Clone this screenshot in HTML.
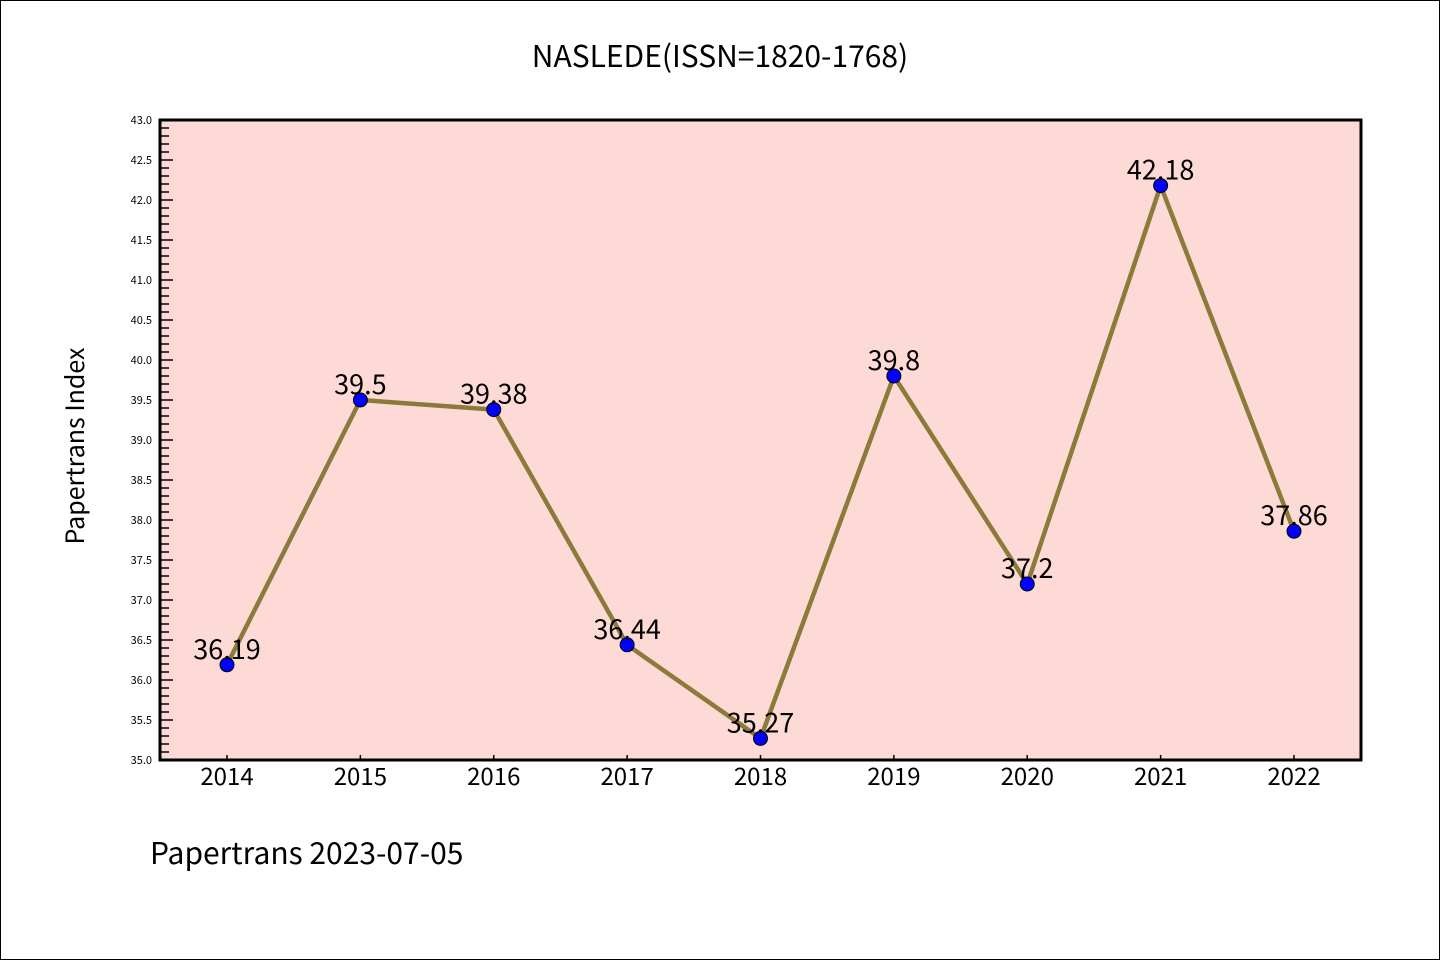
<!DOCTYPE html>
<html><head><meta charset="utf-8"><style>
body{margin:0;background:#fff}
svg{display:block}
text{font-family:"WenQuanYi Zen Hei","WenQuanYi Zen Hei Sharp","文泉驿正黑","Noto Sans CJK SC","Liberation Sans",sans-serif;fill:#000}
</style></head><body>
<svg id="chart" width="1440" height="960" xmlns="http://www.w3.org/2000/svg">
<rect x="0.5" y="0.5" width="1439" height="959" fill="#fff" stroke="#000" stroke-width="1"/>
<text x="720" y="67" font-size="30" text-anchor="middle">NASLEDE(ISSN=1820-1768)</text>
<rect x="160" y="120" width="1201" height="640" fill="#fedad6"/>
<g id="yaxis"></g>
<g id="xaxis"></g>
<g id="series"></g>
<rect x="160" y="120" width="1201" height="640" fill="none" stroke="#000" stroke-width="3"/>
<text transform="translate(84,446) rotate(-90)" font-size="25" text-anchor="middle">Papertrans Index</text>
<text x="150" y="864" font-size="30">Papertrans 2023-07-05</text>
</svg>
<script>
const categories=["2014","2015","2016","2017","2018","2019","2020","2021","2022"];
const values=[36.19,39.5,39.38,36.44,35.27,39.8,37.2,42.18,37.86];
const valueLabels=["36.19","39.5","39.38","36.44","35.27","39.8","37.2","42.18","37.86"];
const yTicks=[35.0,35.5,36.0,36.5,37.0,37.5,38.0,38.5,39.0,39.5,40.0,40.5,41.0,41.5,42.0,42.5,43.0];
const NS="http://www.w3.org/2000/svg";
const yMin=35,yMax=43,plotTop=120,plotBottom=760;
function yScale(v){return plotBottom-(v-yMin)/(yMax-yMin)*(plotBottom-plotTop);}
function xScale(i){return 227+i*(1294-227)/(categories.length-1);}
function mk(t,a,p){const e=document.createElementNS(NS,t);for(const k in a)e.setAttribute(k,a[k]);p.appendChild(e);return e;}
const ya=document.getElementById('yaxis'),xa=document.getElementById('xaxis'),se=document.getElementById('series');
for(let v=yMin*10;v<=yMax*10;v++){
  const yy=yScale(v/10);const major=v%5===0;
  const l=mk('line',{x1:160,x2:160+(major?13:9),y1:yy,y2:yy,stroke:'#000','stroke-width':1.5},ya);
  
  
}
yTicks.forEach(t=>{
  const e=mk('text',{x:152,y:yScale(t)+4,'font-size':11,'text-anchor':'end'},ya);
  e.textContent=t.toFixed(1);
  
  
});
categories.forEach((c,i)=>{
  const l=mk('line',{x1:xScale(i),x2:xScale(i),y1:760,y2:755,stroke:'#000','stroke-width':1.5},xa);
  
  
  const e=mk('text',{x:xScale(i),y:785,'font-size':24,'text-anchor':'middle'},xa);
  e.textContent=c;
  
  
});
const pl=mk('polyline',{points:values.map((v,i)=>xScale(i)+','+yScale(v)).join(' '),fill:'none',stroke:'#8b7b3a','stroke-width':4.5,'stroke-linejoin':'round'},se);


values.forEach((v,i)=>{
  const c=mk('circle',{cx:xScale(i),cy:yScale(v),r:7,fill:'#0000ff',stroke:'#000','stroke-width':1},se);
  
  
});
values.forEach((v,i)=>{
  const t=mk('text',{x:xScale(i),y:yScale(v)-6,'font-size':27,'text-anchor':'middle'},se);
  t.textContent=valueLabels[i];
  
  
});
</script>
</body></html>
